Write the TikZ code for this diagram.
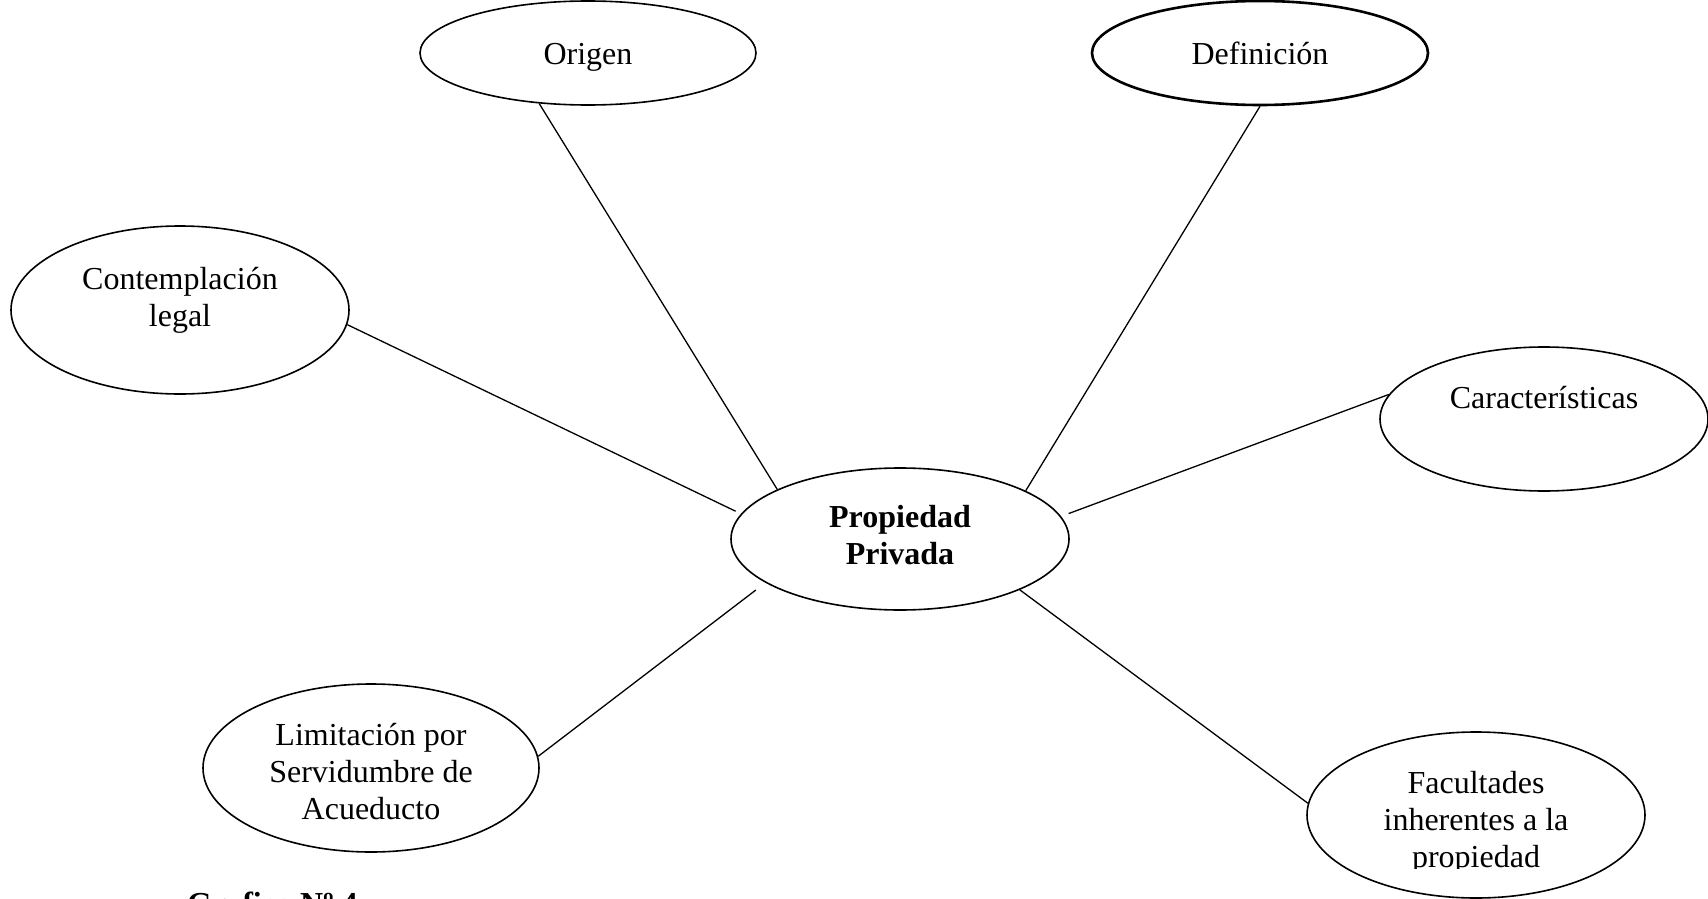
\documentclass[tikz,border=0pt]{standalone}
\usepackage{fontspec}
\setmainfont{Liberation Serif}
\usetikzlibrary{shapes.geometric}
\begin{document}
\begin{tikzpicture}[x=1pt,y=-1pt,
  ell/.style={draw, ellipse, line width=1.6pt, inner sep=0pt},
  txt/.style={align=center, font=\fontsize{32}{37}\selectfont, inner sep=0pt},
  conn/.style={line width=1.3pt}]
\useasboundingbox (0,0) rectangle (1708,899);
\clip (0,0) rectangle (1708,899);
% ellipses
\node[ell, minimum width=336, minimum height=104] (o) at (588,53) {};
\node[ell, line width=2.6pt, minimum width=336, minimum height=104] (d) at (1260,53) {};
\node[ell, minimum width=338, minimum height=168] (c) at (180,310) {};
\node[ell, minimum width=328, minimum height=144] (k) at (1544,419) {};
\node[ell, minimum width=338, minimum height=142] (p) at (900,539) {};
\node[ell, minimum width=336, minimum height=168] (l) at (371,768) {};
\node[ell, minimum width=338, minimum height=166] (f) at (1476,815) {};
% texts
\node[txt] (ot) at (588,57) {Origen\strut};
\node[txt] (dt) at (1260,57) {Definición\strut};
\node[txt] (ct) at (180,300) {Contemplación\\legal};
\node[txt] (kt) at (1544,401) {Características\strut};
\node[txt, font=\fontsize{32}{37}\selectfont\bfseries] (pt) at (900,535) {Propiedad\\Privada};
\node[txt] (lt) at (371,772) {Limitación por\\Servidumbre de\\Acueducto};
\begin{scope}
\clip (1300,700) rectangle (1700,868);
\node[txt] (ft) at (1476,823) {Facultades\\inherentes a la\\propiedad};
\end{scope}
\node[txt, font=\fontsize{32}{37}\selectfont\bfseries, anchor=base west] (g) at (187,914) {Grafico Nº 4};
% connectors
\draw[conn] (o.226.7) -- (p.158.6);
\draw[conn] (d.270) -- (p.21.4);
\draw[conn, shorten >=6pt] (c.355.2) -- (p.171.9);
\draw[conn, shorten >=8pt] (k.171.8) -- (p.8.4);
\draw[conn, shorten >=12pt] (l.4.8) -- (p.198.8);
\draw[conn] (f.176.3) -- (p.337.8);
\end{tikzpicture}
\end{document}
